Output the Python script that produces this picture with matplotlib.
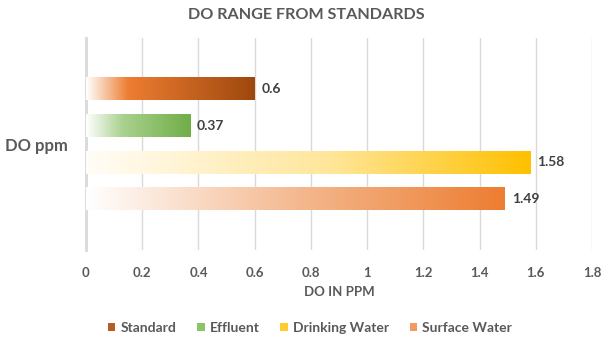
import numpy as np
import matplotlib
matplotlib.use("Agg")
import matplotlib.pyplot as plt
from matplotlib.colors import LinearSegmentedColormap
from matplotlib.patches import Patch

plt.rcParams['font.family'] = ['Lato', 'DejaVu Sans']

series = ['Standard', 'Effluent', 'Drinking Water', 'Surface Water']
values = [0.6, 0.37, 1.58, 1.49]
category = 'DO ppm'

# gradient stops for each bar: (position along the bar, colour)
gradients = [
    [(0.0, '#FFFFFF'), (0.25, '#ED7D31'), (1.0, '#9E480E')],
    [(0.0, '#FFFFFF'), (0.35, '#A9D18E'), (1.0, '#70AD47')],
    [(0.0, '#FFFDF7'), (0.55, '#FFE699'), (1.0, '#FFC000')],
    [(0.0, '#FFFFFF'), (0.5, '#F4B990'), (1.0, '#ED7D31')],
]
legend_colors = ['#B85C26', '#8BC46A', '#FFCB2F', '#F09A5E']

text_col = '#595959'
grid_col = '#D9D9D9'

fig = plt.figure(figsize=(6.03, 3.42), dpi=100)
ax = fig.add_axes([86 / 603, 1 - 250 / 342, 506 / 603, 212 / 342])

pitch = 0.173
height = 0.108
ramp = np.linspace(0, 1, 256).reshape(1, -1)

for i, (name, val, stops) in enumerate(zip(series, values, gradients)):
    yc = 0.5 + (1.5 - i) * pitch
    ax.barh(yc, val, height=height, color='none', edgecolor='none', zorder=3)
    cmap = LinearSegmentedColormap.from_list(name, stops)
    ax.imshow(ramp, cmap=cmap, aspect='auto', zorder=3,
              extent=[0, val, yc - height / 2, yc + height / 2],
              interpolation='bilinear')
    ax.text(val + 0.025, yc, f'{val:g}', va='center', ha='left',
            fontsize=10, fontweight='bold', color='#404040', zorder=4)

ax.set_xlim(0, 1.8)
ax.set_ylim(0, 1)
ax.set_xticks(np.arange(0, 1.81, 0.2))
ax.set_xticklabels(['0', '0.2', '0.4', '0.6', '0.8', '1', '1.2', '1.4', '1.6', '1.8'])
ax.set_yticks([0.5])
ax.set_yticklabels([category])

ax.grid(axis='x', color=grid_col, linewidth=1, zorder=0)
ax.set_axisbelow(True)
for side in ['top', 'right', 'bottom']:
    ax.spines[side].set_visible(False)
ax.spines['left'].set_color(grid_col)
ax.spines['left'].set_linewidth(2)

ax.tick_params(axis='both', length=0)
ax.tick_params(axis='x', pad=12, labelsize=9.5, labelcolor=text_col)
ax.tick_params(axis='y', pad=13, labelsize=12, labelcolor=text_col)
for lab in ax.get_xticklabels() + ax.get_yticklabels():
    lab.set_fontweight('bold')

ax.set_xlabel('DO IN PPM', fontsize=9.5, fontweight='bold', color=text_col, labelpad=5)

fig.text(0.508, 1 - 15 / 342, 'DO RANGE FROM STANDARDS', ha='center', va='center',
         fontsize=11.6, fontweight='bold', color=text_col)

handles = [Patch(facecolor=c, edgecolor='none') for c in legend_colors]
fig.legend(handles, series, loc='center', bbox_to_anchor=(0.514, 1 - 328 / 342),
           ncol=4, frameon=False, handlelength=0.55, handleheight=0.55,
           handletextpad=0.35, columnspacing=1.5,
           prop={'size': 10, 'weight': 'bold'}, labelcolor=text_col)

fig.savefig('out.png', dpi=100, facecolor='white')
